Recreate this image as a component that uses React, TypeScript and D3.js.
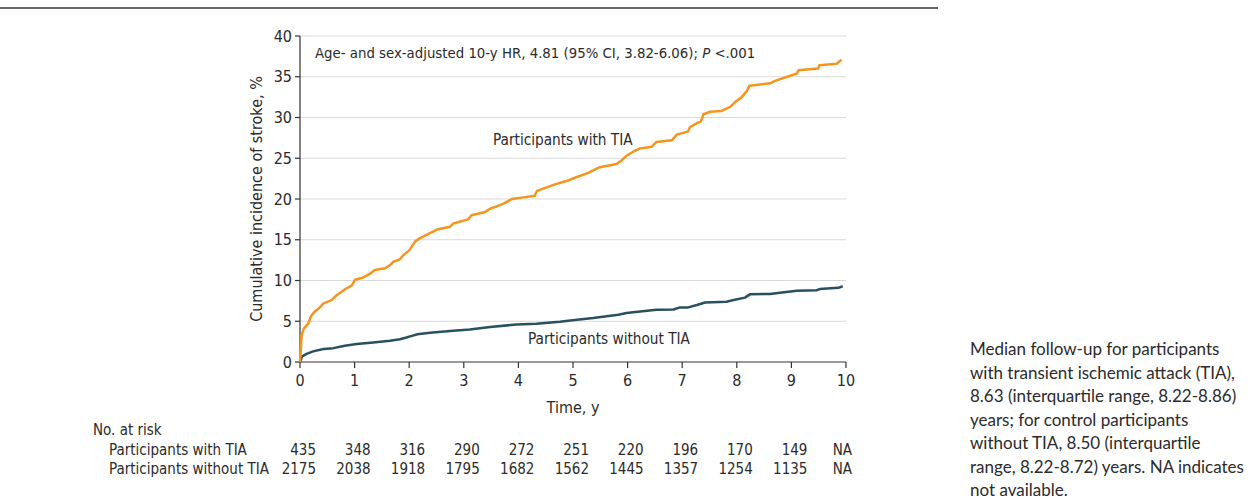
import React from "react";
import * as d3 from "d3";

const timeTicks = [0, 1, 2, 3, 4, 5, 6, 7, 8, 9, 10];
const incidenceTicks = [0, 5, 10, 15, 20, 25, 30, 35, 40];

const tiaTime = [0, 0.03, 0.07, 0.15, 0.2, 0.27, 0.35, 0.43, 0.58, 0.67, 0.82, 0.95, 1.01, 1.13, 1.28, 1.37, 1.56, 1.65, 1.71, 1.83, 1.89, 2.0, 2.11, 2.2, 2.38, 2.53, 2.75, 2.81, 3.08, 3.14, 3.39, 3.48, 3.6, 3.75, 3.88, 4.09, 4.3, 4.34, 4.67, 4.88, 5.07, 5.28, 5.37, 5.49, 5.8, 5.9, 5.98, 6.1, 6.23, 6.44, 6.53, 6.81, 6.9, 7.11, 7.14, 7.27, 7.34, 7.39, 7.51, 7.72, 7.88, 7.97, 8.09, 8.18, 8.23, 8.61, 8.7, 9.1, 9.13, 9.49, 9.51, 9.83, 9.92];
const tiaIncidence = [0, 3.3, 4.1, 4.7, 5.6, 6.2, 6.6, 7.2, 7.6, 8.2, 8.9, 9.4, 10.1, 10.3, 10.8, 11.3, 11.5, 11.9, 12.3, 12.6, 13.1, 13.7, 14.8, 15.2, 15.8, 16.3, 16.6, 17.0, 17.5, 18.0, 18.4, 18.8, 19.1, 19.5, 20.0, 20.2, 20.4, 21.0, 21.8, 22.2, 22.7, 23.2, 23.5, 23.9, 24.3, 24.8, 25.3, 25.8, 26.2, 26.4, 27.0, 27.2, 27.9, 28.3, 28.8, 29.3, 29.5, 30.4, 30.7, 30.8, 31.3, 31.9, 32.5, 33.2, 33.9, 34.2, 34.5, 35.4, 35.8, 36.0, 36.4, 36.6, 37.1];

const ctrlTime = [0, 0.04, 0.12, 0.24, 0.43, 0.61, 0.82, 1.04, 1.34, 1.65, 1.83, 1.95, 2.05, 2.15, 2.38, 2.75, 3.11, 3.48, 3.97, 4.33, 4.76, 4.95, 5.37, 5.83, 5.98, 6.23, 6.53, 6.84, 6.96, 7.11, 7.27, 7.42, 7.81, 7.94, 8.15, 8.24, 8.61, 8.79, 9.1, 9.46, 9.52, 9.86, 9.94];
const ctrlIncidence = [0, 0.7, 1.0, 1.3, 1.6, 1.7, 2.0, 2.2, 2.4, 2.6, 2.8, 3.0, 3.2, 3.4, 3.6, 3.8, 4.0, 4.3, 4.6, 4.7, 4.95, 5.1, 5.4, 5.8, 6.0, 6.2, 6.4, 6.45, 6.7, 6.7, 7.0, 7.3, 7.4, 7.6, 7.9, 8.3, 8.35, 8.5, 8.75, 8.8, 8.95, 9.1, 9.3];

const riskGroups = ["Participants with TIA", "Participants without TIA"];
const riskTIA = ["435", "348", "316", "290", "272", "251", "220", "196", "170", "149", "NA"];
const riskControl = ["2175", "2038", "1918", "1795", "1682", "1562", "1445", "1357", "1254", "1135", "NA"];

const noteLines = [
  "Median follow-up for participants",
  "with transient ischemic attack (TIA),",
  "8.63 (interquartile range, 8.22-8.86)",
  "years; for control participants",
  "without TIA, 8.50 (interquartile",
  "range, 8.22-8.72) years. NA indicates",
  "not available.",
];

const ORANGE = "#F7941D";
const TEAL = "#28505E";
const TEXT = "#2b2b2b";
const NARROW = "'Liberation Sans Narrow', 'DejaVu Sans Condensed', 'Roboto', sans-serif";

export default function App() {
  const x = d3.scaleLinear().domain([0, 10]).range([300, 846]);
  const y = d3.scaleLinear().domain([0, 40]).range([362, 36]);
  const line = d3
    .line<[number, number]>()
    .x((d) => x(d[0]))
    .y((d) => y(d[1]));
  const tiaData: [number, number][] = tiaTime.map((t, i) => [t, tiaIncidence[i]]);
  const ctrlData: [number, number][] = ctrlTime.map((t, i) => [t, ctrlIncidence[i]]);
  const riskRows = [riskTIA, riskControl];

  return (
    <svg
      width={1256}
      height={499}
      style={{ position: "fixed", left: 0, top: 0, background: "#fff" }}
    >
      <line x1={0} x2={938} y1={8} y2={8} stroke="#333" strokeWidth={1.5} />

      {incidenceTicks
        .filter((v) => v > 0)
        .map((v) => (
          <line key={"g" + v} x1={x(0)} x2={x(10)} y1={y(v)} y2={y(v)} stroke="#d9d9d9" strokeWidth={1} />
        ))}

      <line x1={x(0)} x2={x(0)} y1={y(40)} y2={y(0)} stroke="#333" strokeWidth={1.2} />
      {incidenceTicks.map((v) => (
        <g key={"y" + v}>
          <line x1={x(0) - 5} x2={x(0)} y1={y(v)} y2={y(v)} stroke="#333" strokeWidth={1.2} />
          <text x={x(0) - 8} y={y(v)} dy="0.35em" textAnchor="end" fontFamily={NARROW} fontSize={16} fill={TEXT}>
            {v}
          </text>
        </g>
      ))}

      <line x1={x(0)} x2={x(10)} y1={y(0)} y2={y(0)} stroke="#333" strokeWidth={1.2} />
      {timeTicks.map((t) => (
        <g key={"x" + t}>
          <line x1={x(t)} x2={x(t)} y1={y(0)} y2={y(0) + 6} stroke="#333" strokeWidth={1.2} />
          <text x={x(t)} y={386} textAnchor="middle" fontFamily={NARROW} fontSize={16} fill={TEXT}>
            {t}
          </text>
        </g>
      ))}

      <text x={(x(0) + x(10)) / 2} y={413} textAnchor="middle" fontFamily={NARROW} fontSize={16} fill={TEXT}>
        Time, y
      </text>
      <text
        transform={`translate(262, ${(y(0) + y(40)) / 2}) rotate(-90)`}
        textAnchor="middle"
        fontFamily={NARROW}
        fontSize={16}
        fill={TEXT}
      >
        Cumulative incidence of stroke, %
      </text>

      <path d={line(ctrlData) || ""} fill="none" stroke={TEAL} strokeWidth={2.5} strokeLinejoin="round" />
      <path d={line(tiaData) || ""} fill="none" stroke={ORANGE} strokeWidth={2.5} strokeLinejoin="round" />

      <text x={315} y={58} fontFamily={NARROW} fontSize={14.8} fill={TEXT}>
        Age- and sex-adjusted 10-y HR, 4.81 (95% CI, 3.82-6.06); <tspan fontStyle="italic">P</tspan> {"<.001"}
      </text>
      <text x={493} y={145} fontFamily={NARROW} fontSize={15.2} fill={TEXT}>
        Participants with TIA
      </text>
      <text x={528} y={344} fontFamily={NARROW} fontSize={15.2} fill={TEXT}>
        Participants without TIA
      </text>

      <text x={93} y={435} fontFamily={NARROW} fontSize={15} fill={TEXT}>
        No. at risk
      </text>
      {riskGroups.map((g, r) => (
        <g key={g}>
          <text x={109} y={455 + r * 18.5} fontFamily={NARROW} fontSize={15} fill={TEXT}>
            {g}
          </text>
          {riskRows[r].map((val, i) => (
            <text
              key={i}
              x={val === "NA" ? x(timeTicks[i]) + 6 : x(timeTicks[i]) + 16}
              y={455 + r * 18.5}
              textAnchor="end"
              fontFamily={NARROW}
              fontSize={15}
              fill={TEXT}
            >
              {val}
            </text>
          ))}
        </g>
      ))}

      {noteLines.map((l, i) => (
        <text key={i} x={970} y={355 + i * 23.5} fontFamily="Lato, 'Open Sans', sans-serif" fontSize={17} fill={TEXT}>
          {l}
        </text>
      ))}
    </svg>
  );
}
